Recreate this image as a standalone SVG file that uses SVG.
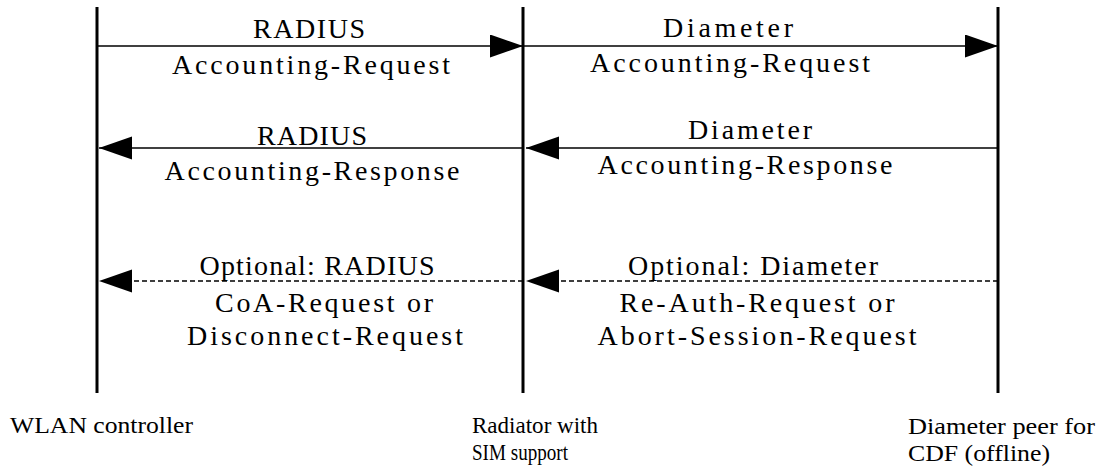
<svg xmlns="http://www.w3.org/2000/svg" width="1108" height="469" viewBox="0 0 1108 469">
<style>
.life{stroke:#000;stroke-width:3;fill:none}
.msg{stroke:#000;stroke-width:1.3;fill:none}
.dash{stroke-dasharray:5 3}
text{font-family:"Liberation Serif","Times New Roman",serif}
.t{font-size:28px;fill:#000;text-anchor:middle}
.b{font-size:23px;fill:#000}
</style>
<defs>
<marker id="ah" markerUnits="userSpaceOnUse" markerWidth="34" markerHeight="24" refX="33" refY="11.5" orient="auto">
<path d="M0,0 L33,11.5 L0,23 Z" fill="#000" stroke="none"/>
</marker>
</defs>
<rect width="1108" height="469" fill="#fff"/>
<g id="wlan">
<line class="life" x1="97" y1="7" x2="97" y2="393"/>
<text class="b" x="10" y="433" textLength="183" lengthAdjust="spacingAndGlyphs">WLAN controller</text>
</g>
<g id="radiator">
<line class="life" x1="523" y1="7" x2="523" y2="393"/>
<text class="b" x="472" y="433" textLength="126" lengthAdjust="spacingAndGlyphs">Radiator with</text>
<text class="b" x="472" y="460" textLength="96" lengthAdjust="spacingAndGlyphs">SIM support</text>
</g>
<g id="cdf">
<line class="life" x1="998" y1="7" x2="998" y2="393"/>
<text class="b" x="908" y="434" textLength="187" lengthAdjust="spacingAndGlyphs">Diameter peer for</text>
<text class="b" x="908" y="461" textLength="142" lengthAdjust="spacingAndGlyphs">CDF (offline)</text>
</g>
<g id="connectors">
<line class="msg" x1="97" y1="46" x2="523" y2="46" marker-end="url(#ah)"/>
<line class="msg" x1="523" y1="46" x2="998" y2="46" marker-end="url(#ah)"/>
<line class="msg" x1="523" y1="148" x2="99" y2="148" marker-end="url(#ah)"/>
<line class="msg" x1="998" y1="148" x2="526" y2="148" marker-end="url(#ah)"/>
<line class="msg dash" x1="523" y1="281" x2="99" y2="281" marker-end="url(#ah)"/>
<line class="msg dash" x1="998" y1="281" x2="526" y2="281" marker-end="url(#ah)"/>
</g>
<g id="labels">
<text class="t" x="309" y="38" textLength="112">RADIUS</text>
<text class="t" x="311" y="74" textLength="278">Accounting-Request</text>
<text class="t" x="728" y="37" textLength="130">Diameter</text>
<text class="t" x="730" y="72" textLength="280">Accounting-Request</text>
<text class="t" x="312" y="145" textLength="110">RADIUS</text>
<text class="t" x="312" y="180" textLength="295">Accounting-Response</text>
<text class="t" x="750" y="139" textLength="124">Diameter</text>
<text class="t" x="745" y="174" textLength="295">Accounting-Response</text>
<text class="t" x="317" y="275" textLength="235">Optional: RADIUS</text>
<text class="t" x="324" y="312" textLength="218">CoA-Request or</text>
<text class="t" x="325" y="345" textLength="276">Disconnect-Request</text>
<text class="t" x="753" y="275" textLength="250">Optional: Diameter</text>
<text class="t" x="757" y="312" textLength="275">Re-Auth-Request or</text>
<text class="t" x="757" y="345" textLength="319">Abort-Session-Request</text>
</g>
</svg>
